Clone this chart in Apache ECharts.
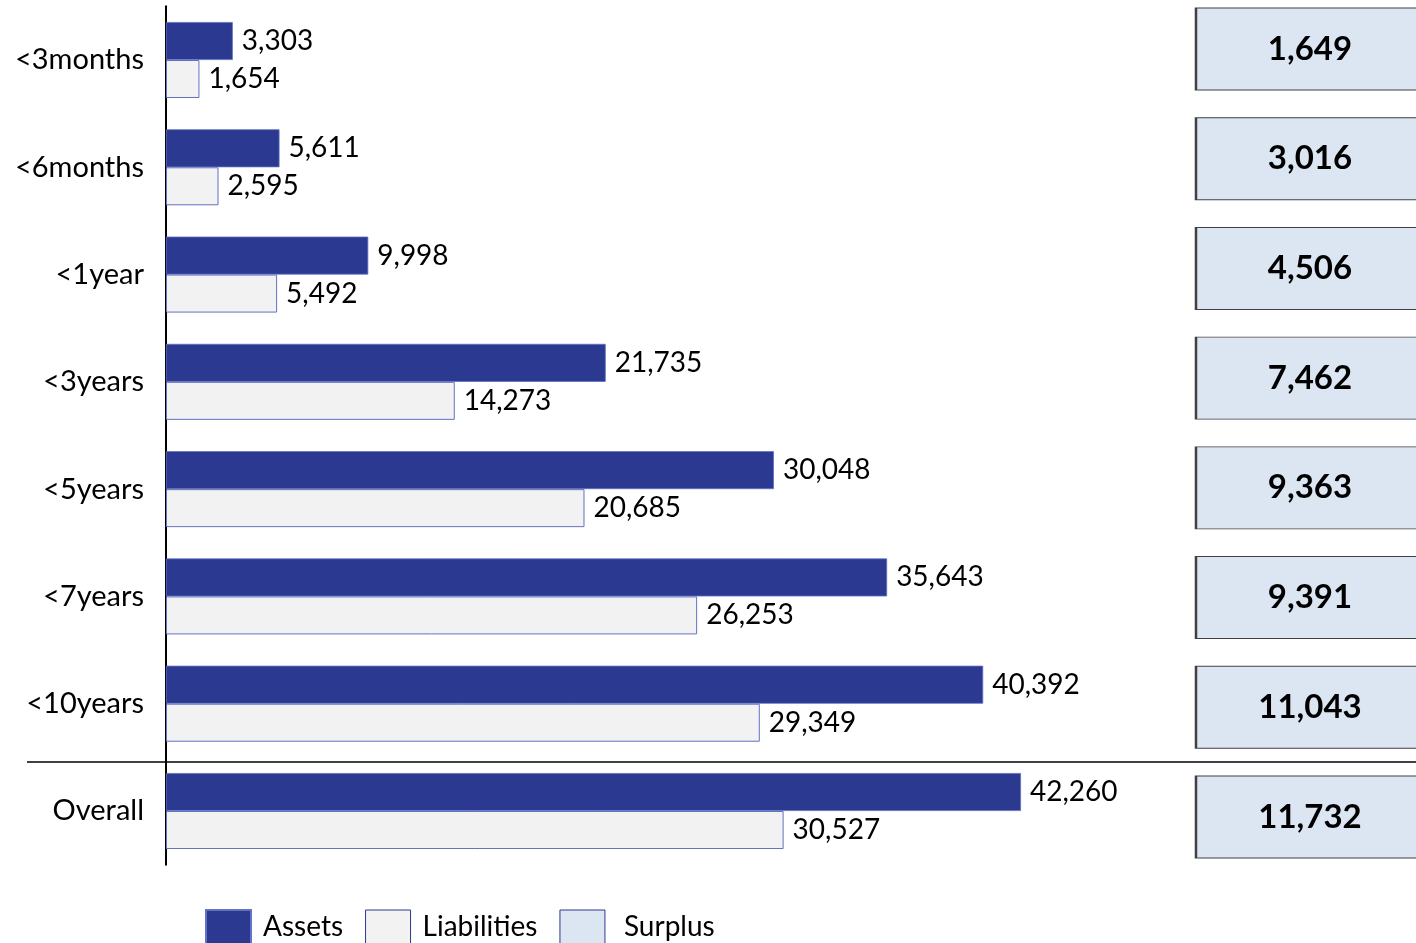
<!DOCTYPE html>
<html><head><meta charset="utf-8">
<script src="https://cdn.jsdelivr.net/npm/echarts@6/dist/echarts.min.js"></script>
<style>html,body{margin:0;padding:0;background:#fff}#c{width:1416px;height:943px}</style>
</head><body><div id="c"></div>
<script>
const categories = ['<3months','<6months','<1year','<3years','<5years','<7years','<10years','Overall'];
const assets = [3303, 5611, 9998, 21735, 30048, 35643, 40392, 42260];
const liabilities = [1654, 2595, 5492, 14273, 20685, 26253, 29349, 30527];
const surplus = [1649, 3016, 4506, 7462, 9363, 9391, 11043, 11732];

const FONT = 'Lato';
const fmt = v => v.toLocaleString('en-US');
const chart = echarts.init(document.getElementById('c'));
chart.setOption({
  animation: false,
  textStyle: {fontFamily: FONT},
  grid: [
    {left: 166, top: 6.35, width: 1011.6, height: 858.3},
    {left: 1204, top: 49, width: 212, height: 768}
  ],
  xAxis: [
    {gridIndex: 0, type: 'value', min: 0, max: 50000, show: false},
    {gridIndex: 1, type: 'value', min: 0, max: 1, show: false}
  ],
  yAxis: [
    {gridIndex: 0, type: 'category', data: categories, inverse: true,
     axisLine: {lineStyle: {color: '#000', width: 2}}, axisTick: {show: false},
     axisLabel: {fontSize: 29, color: '#000', margin: 22, fontFamily: FONT}},
    {gridIndex: 1, type: 'category', data: categories, inverse: true, boundaryGap: false, show: false}
  ],
  legend: {
    left: 205, top: 909, padding: 0, itemWidth: 45, itemHeight: 34, itemGap: 22,
    textStyle: {fontSize: 28, color: '#000', fontFamily: FONT, padding: [0,0,0,7]},
    data: [
      {name: 'Assets', icon: 'rect'},
      {name: 'Liabilities', icon: 'rect', itemStyle: {color: '#F2F2F2', borderColor: '#2B3990', borderWidth: 1}},
      {name: 'Surplus', icon: 'rect', itemStyle: {color: '#DCE6F2', borderColor: '#2B3990', borderWidth: 1}, textStyle: {padding: [0,0,0,14]}}
    ]
  },
  series: [
    {name: 'Assets', type: 'bar', xAxisIndex: 0, yAxisIndex: 0, data: assets,
     barWidth: 38, barGap: '0%',
     itemStyle: {color: '#2B3990', borderColor: '#6272C4', borderWidth: 0.8},
     label: {show: true, position: 'right', distance: 9, fontSize: 28, color: '#000', fontFamily: FONT,
             formatter: p => fmt(p.value)}},
    {name: 'Liabilities', type: 'bar', xAxisIndex: 0, yAxisIndex: 0, data: liabilities,
     barWidth: 38, barGap: '0%',
     itemStyle: {color: '#F2F2F2', borderColor: '#6272C4', borderWidth: 1},
     label: {show: true, position: 'right', distance: 9, fontSize: 28, color: '#000', fontFamily: FONT,
             formatter: p => fmt(p.value)}},
    {name: 'Surplus', type: 'scatter', xAxisIndex: 1, yAxisIndex: 1,
     data: surplus.map((v, i) => [0.5, categories[i], v]),
     symbol: 'rect', symbolSize: [228, 82],
     itemStyle: {color: '#DCE6F2', borderColor: '#404040', borderWidth: 1.5, opacity: 1},
     label: {show: true, position: 'inside', fontSize: 33, fontWeight: 'bold', color: '#000', fontFamily: FONT,
             formatter: p => fmt(p.value[2])}}
  ],
  graphic: [
    {type: 'line', shape: {x1: 27, y1: 762, x2: 1416, y2: 762}, style: {stroke: '#000', lineWidth: 1.5}, z: 10}
  ]
});
</script></body></html>
